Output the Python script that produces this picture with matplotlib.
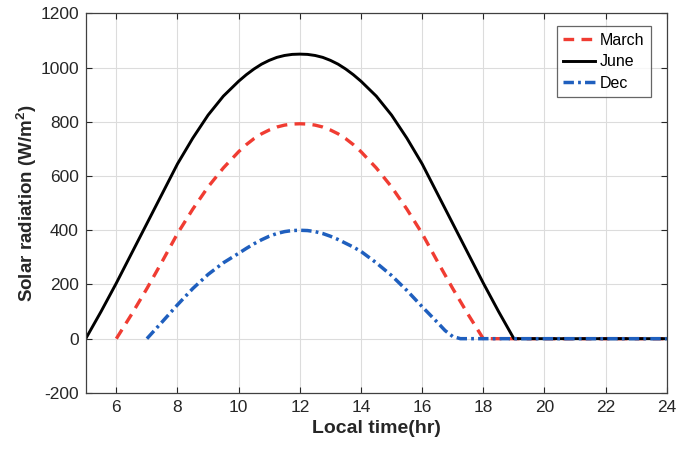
import matplotlib
matplotlib.use("Agg")
import matplotlib.pyplot as plt

plt.rcParams['font.family'] = ['Liberation Sans', 'DejaVu Sans']
plt.rcParams['mathtext.fontset'] = 'custom'
plt.rcParams['mathtext.rm'] = 'Liberation Sans'
plt.rcParams['mathtext.bf'] = 'Liberation Sans:bold'
plt.rcParams['axes.unicode_minus'] = False

# Local time (hr) and readings for each month
march_t = [6, 6.5, 7, 7.5, 8, 8.5, 9, 9.5, 10, 10.25, 10.5, 10.75, 11, 11.25, 11.5, 11.75, 12,
           12.25, 12.5, 12.75, 13, 13.25, 13.5, 13.75, 14, 14.5, 15, 15.5, 16, 16.5, 17, 17.5, 18, 24]
march_v = [0, 90, 185, 285, 388, 478, 560, 630, 690, 716, 738, 756, 770, 781, 788, 792, 793,
           792, 788, 781, 770, 756, 738, 716, 690, 630, 560, 478, 388, 285, 185, 90, 0, 0]

june_t = [5, 5.5, 6, 6.5, 7, 7.5, 8, 8.5, 9, 9.5, 10, 10.25, 10.5, 10.75, 11, 11.25, 11.5, 11.75, 12,
          12.25, 12.5, 12.75, 13, 13.25, 13.5, 13.75, 14, 14.5, 15, 15.5, 16, 16.5, 17, 17.5,
          18, 18.5, 19, 24]
june_v = [0, 100, 205, 315, 425, 535, 645, 740, 825, 895, 950, 974, 995, 1013, 1027, 1038, 1045, 1049, 1050,
          1049, 1045, 1038, 1027, 1013, 995, 974, 950, 895, 825, 740, 645, 535, 425, 315,
          205, 100, 0, 0]

dec_t = [7, 7.5, 8, 8.5, 9, 9.5, 10, 10.25, 10.5, 10.75, 11, 11.25, 11.5, 11.75, 12,
         12.25, 12.5, 12.75, 13, 13.25, 13.5, 13.75, 14, 14.5, 15, 15.5, 16, 16.5, 16.75, 17, 17.25, 24]
dec_v = [0, 62, 125, 185, 237, 280, 315, 333, 350, 365, 378, 388, 395, 399, 400,
         399, 395, 388, 378, 366, 352, 338, 322, 280, 233, 178, 118, 60, 30, 8, 0, 0]

xticks = [6, 8, 10, 12, 14, 16, 18, 20, 22, 24]
yticks = [-200, 0, 200, 400, 600, 800, 1000, 1200]

fig = plt.figure(figsize=(6.86, 4.49), dpi=100)
ax = fig.add_axes([0.125, 0.125, 0.847, 0.845])

ax.plot(march_t, march_v, color='#f03c32', lw=2.4, ls=(0, (3.2, 2.2)), label='March')
ax.plot(june_t, june_v, color='black', lw=2.1, ls='-', label='June')
ax.plot(dec_t, dec_v, color='#1f5fbe', lw=2.5, ls=(0, (3.0, 1.2, 0.8, 1.2)), label='Dec')

ax.set_xlim(5, 24)
ax.set_ylim(-200, 1200)
ax.set_xticks(xticks)
ax.set_yticks(yticks)
ax.grid(True, color='#dcdcdc', lw=0.8)
ax.set_axisbelow(True)
ax.tick_params(direction='in', top=True, right=True, labelsize=12.5,
               colors='#262626', length=4, width=0.8, pad=5)
for s in ax.spines.values():
    s.set_color('#404040')
    s.set_linewidth(0.9)

ax.set_xlabel('Local time(hr)', fontsize=14, fontweight='bold', color='#262626', labelpad=4)
ax.set_ylabel(r'Solar radiation (W/m$^{\mathbf{2}}$)', fontsize=13.5,
              fontweight='bold', color='#262626', labelpad=1)

leg = ax.legend(loc='upper right', bbox_to_anchor=(0.9725, 0.966), borderaxespad=0,
                fontsize=11.5, frameon=True, fancybox=False, edgecolor='#404040',
                handlelength=2.0, handletextpad=0.3, borderpad=0.4, labelspacing=0.4)
leg.get_frame().set_linewidth(0.9)

fig.savefig('out.png', dpi=100)
